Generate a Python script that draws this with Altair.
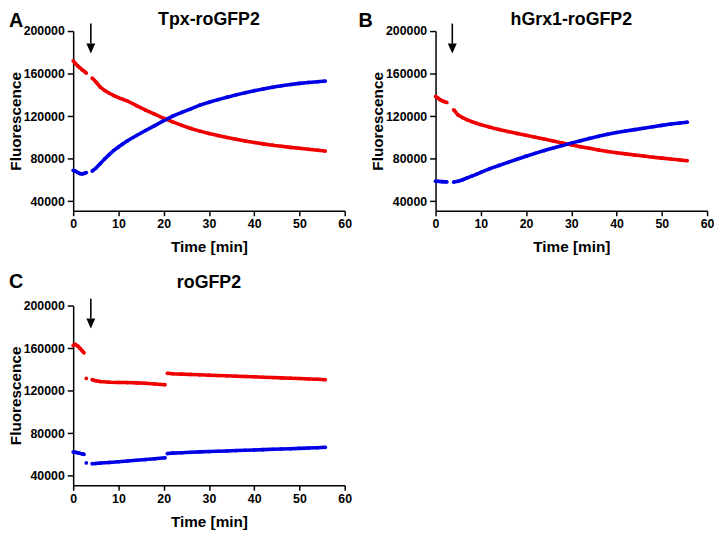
import altair as alt
import pandas as pd

# ---------------- data ----------------
A_time = [0, 0.5, 1, 1.5, 2, 2.5, 2.9,
          4.2, 5, 6, 7, 8, 9, 10, 11, 12,
          14, 16, 18, 20, 22, 24, 26, 28, 30, 32, 34, 36, 38, 40, 42, 44, 46, 48, 50, 52, 54,
          55.7]
A_seg = [1] * 7 + [2] * 31
A_red = [172000, 169500, 167200, 165500, 163500, 162000, 160500,
         155800, 152300, 147200, 144000, 141500, 139300, 137500, 135800, 134200,
         129800, 125700, 121800, 118000, 114500, 111300, 108400, 105900, 103700, 101700,
         99900, 98200, 96600, 95200, 93900, 92700, 91600, 90600, 89700, 88800, 88000,
         87100]
A_blue = [69000, 68200, 67000, 66000, 65600, 66200, 66900,
          68300, 71000, 75500, 79800, 84000, 87800, 91000, 94000, 96800,
          101800, 106500, 111000, 115800, 120000, 123600, 126800, 130300, 133000, 135500,
          137800, 140000, 142000, 143900, 145600, 147100, 148500, 149700, 150800, 151700, 152400,
          153000]

B_time = [0, 0.5, 1, 1.5, 2, 2.5,
          4, 5, 6, 7, 8, 9, 10,
          12, 14, 16, 18, 20, 22, 24, 26, 28, 30, 32, 34, 36, 38, 40, 42, 44, 46, 48, 50, 52, 54,
          55.6]
B_seg = [1] * 6 + [2] * 30
B_red = [138500, 137000, 135500, 134300, 133500, 132800,
         126000, 121000, 118500, 116500, 114800, 113300, 112000,
         109600, 107500, 105500, 103700, 102000, 100200, 98400, 96600, 94800, 93000, 91300,
         89700, 88200, 86800, 85600, 84500, 83400, 82400, 81400, 80500, 79600, 78800,
         78100]
B_blue = [58800, 58700, 58500, 58400, 58300, 58100,
          58000, 58800, 60200, 62000, 63600, 65300, 67200,
          70600, 73600, 76500, 79400, 82300, 85000, 87600, 90000, 92300, 94600, 96800,
          99000, 101000, 102900, 104600, 106000, 107300, 108600, 110000, 111300, 112500, 113600,
          114300]

C_time = [0, 0.5, 1, 1.5, 2, 2.4,
          2.9,
          4.2, 5, 6, 8, 10, 12, 14, 16, 18, 20.3,
          20.8, 22, 24, 26, 28, 30, 32, 34, 36, 38, 40, 42, 44, 46, 48, 50, 52, 54, 55.7]
C_seg = [1] * 6 + [2] + [3] * 10 + [4] * 19
C_red = [162500, 163400, 162000, 159800, 157500, 155500,
         131500,
         130300, 129300, 128500, 127900, 127700, 127600, 127300, 126900, 126300, 125600,
         136300, 135900, 135500, 135200, 134900, 134500, 134200, 133900, 133600, 133300,
         133000, 132600, 132300, 132000, 131700, 131400, 131000, 130700, 130300]
C_blue = [62300, 62000, 61500, 61000, 60500, 60100,
          52000,
          51300, 51500, 51900, 52500, 53100, 53800, 54500, 55200, 55900, 56800,
          60800, 61200, 61600, 62000, 62400, 62700, 63000, 63300, 63600, 63900,
          64200, 64500, 64800, 65100, 65400, 65700, 66000, 66300, 66700]

panel_titles = ["Tpx-roGFP2", "hGrx1-roGFP2", "roGFP2"]
panel_letters = ["A", "B", "C"]
arrow_time = [3.9, 3.7, 3.9]
arrow_top = [207000, 207000, 206500]
arrow_tip = [179000, 179000, 178500]

x_ticks = [0, 10, 20, 30, 40, 50, 60]
y_ticks = [40000, 80000, 120000, 160000, 200000]

# ---------------- styling ----------------
FONT = "Liberation Sans"
RED = "#f00000"
BLUE = "#0000e6"
W, H = 275, 182
Y_DOM = [31000, 200000]
PX_PER_UNIT = H / (Y_DOM[1] - Y_DOM[0])


def long_df(time, seg, red, blue):
    rows = []
    for t, s, r, b in zip(time, seg, red, blue):
        rows.append({"t": t, "seg": s, "series": "red", "v": r})
        rows.append({"t": t, "seg": s, "series": "blue", "v": b})
    return pd.DataFrame(rows)


def panel(i, df, letter_xy, title_y):
    xscale = alt.Scale(domain=[0, 60], nice=False, zero=False)
    yscale = alt.Scale(domain=Y_DOM, nice=False, zero=False)
    xaxis = alt.Axis(values=x_ticks, title="Time [min]", tickSize=5,
                     labelPadding=2, labelFontSize=12.5, titleFontSize=15.5,
                     titlePadding=10, labelFlush=False)
    yaxis = alt.Axis(values=y_ticks, format="d", title="Fluorescence",
                     tickSize=6, labelPadding=3, labelFontSize=12.5,
                     titleFontSize=15.5, titlePadding=0, labelFlush=False)
    x = alt.X("t:Q", scale=xscale, axis=xaxis)
    y = alt.Y("v:Q", scale=yscale, axis=yaxis)
    color = alt.Color("series:N",
                      scale=alt.Scale(domain=["red", "blue"], range=[RED, BLUE]),
                      legend=None)
    base = alt.Chart(df)
    lines = base.mark_line(strokeWidth=3.6).encode(x=x, y=y, color=color, detail="seg:N")
    dots = base.mark_circle(size=14, opacity=1).encode(x=x, y=y, color=color)

    head_offset = 5 / PX_PER_UNIT
    rdf = pd.DataFrame({"t": [arrow_time[i]], "v": [arrow_top[i]],
                        "v2": [arrow_tip[i] + 2 * head_offset]})
    hdf = pd.DataFrame({"t": [arrow_time[i]], "v": [arrow_tip[i] + head_offset]})
    rule = alt.Chart(rdf).mark_rule(color="black", strokeWidth=1.6).encode(
        x=x, y=y, y2="v2:Q")
    head = alt.Chart(hdf).mark_point(shape="M-0.9,-1L0.9,-1L0,1Z", filled=True,
                                     size=100, color="black", opacity=1,
                                     strokeWidth=0).encode(x=x, y=y)

    letter = alt.Chart(pd.DataFrame({"s": [panel_letters[i]]})).mark_text(
        x=letter_xy[0], y=letter_xy[1], align="left", baseline="alphabetic",
        fontSize=20, fontWeight="bold", font=FONT, color="black").encode(text="s:N")
    title = alt.Chart(pd.DataFrame({"s": [panel_titles[i]]})).mark_text(
        x=W / 2, y=title_y, align="center", baseline="alphabetic",
        fontSize=18, fontWeight="bold", font=FONT, color="black").encode(text="s:N")

    return alt.layer(lines, dots, rule, head, letter, title).properties(width=W, height=H)


pA = panel(0, long_df(A_time, A_seg, A_red, A_blue), (-65, -4), -6)
pB = panel(1, long_df(B_time, B_seg, B_red, B_blue), (-78, -4), -6)
pC = panel(2, long_df(C_time, C_seg, C_red, C_blue), (-65, -18), -18)

chart = alt.concat(
    pA, pB, pC, columns=2,
    spacing=alt.RowColnumber(row=96, column=92),
    bounds="flush",
).properties(padding={"left": 0, "top": 0, "right": 0, "bottom": 0}).configure_view(
    stroke=None
).configure_axis(
    grid=False, domainColor="black", tickColor="black", labelColor="black",
    titleColor="black", labelFont=FONT, titleFont=FONT, labelFontWeight="bold",
    titleFontWeight="bold", domainWidth=1.5, tickWidth=1.5,
)

chart.save("out.html", embed_options={"renderer": "svg", "actions": False})
